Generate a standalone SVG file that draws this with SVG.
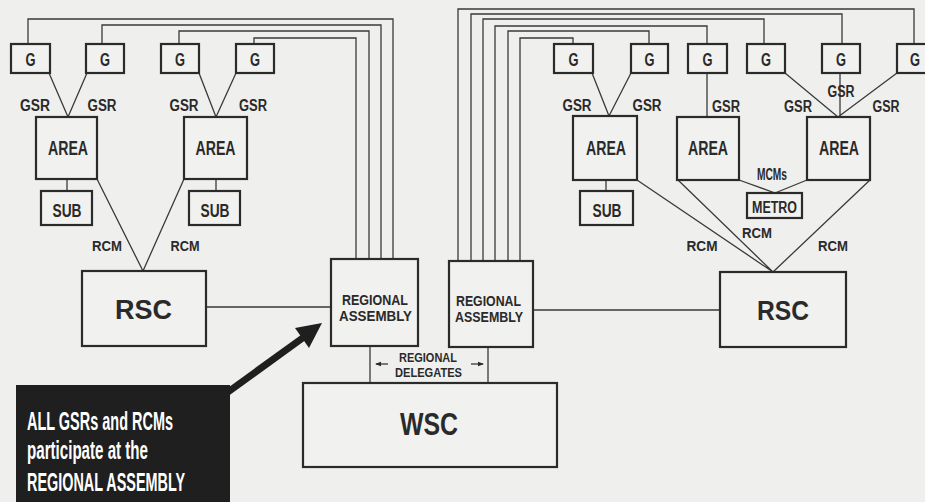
<svg xmlns="http://www.w3.org/2000/svg" width="925" height="502" viewBox="0 0 925 502">
<defs>
<style>
.bx{fill:#f1f1ef;stroke:#2b2b2b;stroke-width:2.2}
.ln{fill:none;stroke:#3a3a3a;stroke-width:1.3}
.t{font-family:"Liberation Sans Narrow","Liberation Sans",Arial,sans-serif;font-weight:bold;fill:#2a2a2a;text-anchor:middle}
.w{font-family:"Liberation Sans Narrow","Liberation Sans",Arial,sans-serif;font-weight:bold;fill:#ffffff}
</style>
<marker id="ah" markerWidth="6" markerHeight="6" refX="5" refY="3" orient="auto" markerUnits="userSpaceOnUse">
<path d="M0,0.8 L6,3 L0,5.2 Z" fill="#2a2a2a"/>
</marker>
</defs>
<rect x="0" y="0" width="925" height="502" fill="#efefed"/>

<g id="connectors">
<path class="ln" d="M28,44 V19 H393 V259"/>
<path class="ln" d="M102,44 V25 H381 V259"/>
<path class="ln" d="M179,44 V31 H369 V259"/>
<path class="ln" d="M254,44 V38 H356 V259"/>
<path class="ln" d="M573,44 V38 H520 V261"/>
<path class="ln" d="M649,44 V31 H508 V261"/>
<path class="ln" d="M707,44 V26 H495 V261"/>
<path class="ln" d="M764,44 V19 H483 V261"/>
<path class="ln" d="M842,44 V14 H471 V261"/>
<path class="ln" d="M914,44 V9 H458 V261"/>
<path class="ln" d="M49,73 L68,117 M87,73 L68,117 M199,73 L216,117 M236,73 L216,117"/>
<path class="ln" d="M67,179 V191 M216,179 V191 M606,180 V191"/>
<path class="ln" d="M97,179 L143,271 M184,179 L143,271"/>
<path class="ln" d="M206,307 H331 M533,310 H720"/>
<path class="ln" d="M370,346 V383 M488,347 V383"/>
<path class="ln" d="M592,73 L609,116 M631,73 L609,116 M707,73 V117 M785,73 L838,117 M840,73 V117 M897,73 L838,117"/>
<path class="ln" d="M739,180 L775,193 M807,180 L775,193"/>
<path class="ln" d="M637,180 L773,272 M678,180 L773,272 M870,180 L773,272"/>
<path class="ln" d="M388,364 H376" marker-end="url(#ah)"/>
<path class="ln" d="M471,364 H483" marker-end="url(#ah)"/>
<line x1="228" y1="392" x2="304" y2="337" stroke="#1f1f1f" stroke-width="7"/>
<polygon points="322,323 295,328 309,348" fill="#1f1f1f"/>
</g>

<g id="g1"><rect class="bx" x="11" y="44" width="39" height="29"/><text class="t" x="30.5" y="66" font-size="18" textLength="10" lengthAdjust="spacingAndGlyphs">G</text></g>
<g id="g2"><rect class="bx" x="86" y="44" width="38" height="29"/><text class="t" x="105" y="66" font-size="18" textLength="10" lengthAdjust="spacingAndGlyphs">G</text></g>
<g id="g3"><rect class="bx" x="161" y="44" width="38" height="29"/><text class="t" x="180" y="66" font-size="18" textLength="10" lengthAdjust="spacingAndGlyphs">G</text></g>
<g id="g4"><rect class="bx" x="236" y="44" width="38" height="29"/><text class="t" x="255" y="66" font-size="18" textLength="10" lengthAdjust="spacingAndGlyphs">G</text></g>
<g id="g5"><rect class="bx" x="554" y="44" width="39" height="29"/><text class="t" x="573.5" y="66" font-size="18" textLength="10" lengthAdjust="spacingAndGlyphs">G</text></g>
<g id="g6"><rect class="bx" x="631" y="44" width="37" height="29"/><text class="t" x="649.5" y="66" font-size="18" textLength="10" lengthAdjust="spacingAndGlyphs">G</text></g>
<g id="g7"><rect class="bx" x="688" y="44" width="39" height="29"/><text class="t" x="707.5" y="66" font-size="18" textLength="10" lengthAdjust="spacingAndGlyphs">G</text></g>
<g id="g8"><rect class="bx" x="747" y="44" width="38" height="29"/><text class="t" x="766" y="66" font-size="18" textLength="10" lengthAdjust="spacingAndGlyphs">G</text></g>
<g id="g9"><rect class="bx" x="822" y="44" width="38" height="29"/><text class="t" x="841" y="66" font-size="18" textLength="10" lengthAdjust="spacingAndGlyphs">G</text></g>
<g id="g10"><rect class="bx" x="897" y="44" width="40" height="29"/><text class="t" x="915" y="66" font-size="18" textLength="10" lengthAdjust="spacingAndGlyphs">G</text></g>

<g id="area1"><rect class="bx" x="36" y="117" width="61" height="62"/><text class="t" x="68" y="155" font-size="20" textLength="40" lengthAdjust="spacingAndGlyphs">AREA</text></g>
<g id="area2"><rect class="bx" x="184" y="117" width="63" height="62"/><text class="t" x="215.5" y="155" font-size="20" textLength="40" lengthAdjust="spacingAndGlyphs">AREA</text></g>
<g id="area3"><rect class="bx" x="573" y="116" width="64" height="64"/><text class="t" x="606" y="155" font-size="20" textLength="40" lengthAdjust="spacingAndGlyphs">AREA</text></g>
<g id="area4"><rect class="bx" x="677" y="117" width="62" height="63"/><text class="t" x="708" y="155" font-size="20" textLength="40" lengthAdjust="spacingAndGlyphs">AREA</text></g>
<g id="area5"><rect class="bx" x="807" y="117" width="63" height="63"/><text class="t" x="839" y="155" font-size="20" textLength="40" lengthAdjust="spacingAndGlyphs">AREA</text></g>

<g id="sub1"><rect class="bx" x="41" y="191" width="51" height="34"/><text class="t" x="67" y="217" font-size="19" textLength="29" lengthAdjust="spacingAndGlyphs">SUB</text></g>
<g id="sub2"><rect class="bx" x="189" y="191" width="51" height="34"/><text class="t" x="215" y="217" font-size="19" textLength="29" lengthAdjust="spacingAndGlyphs">SUB</text></g>
<g id="sub3"><rect class="bx" x="580" y="191" width="53" height="34"/><text class="t" x="607" y="217" font-size="19" textLength="29" lengthAdjust="spacingAndGlyphs">SUB</text></g>

<g id="metro"><rect class="bx" x="747" y="193" width="55" height="25"/><text class="t" x="774.5" y="213" font-size="16" textLength="45" lengthAdjust="spacingAndGlyphs">METRO</text></g>

<g id="rsc1"><rect class="bx" x="82" y="271" width="124" height="75"/><text class="t" x="143.5" y="319" font-size="27" textLength="57" lengthAdjust="spacingAndGlyphs">RSC</text></g>
<g id="rsc2"><rect class="bx" x="720" y="272" width="126" height="75"/><text class="t" x="783" y="320" font-size="27" textLength="52" lengthAdjust="spacingAndGlyphs">RSC</text></g>

<g id="ra1"><rect class="bx" x="331" y="259" width="87" height="87"/><text class="t" x="375" y="305" font-size="15" textLength="66" lengthAdjust="spacingAndGlyphs">REGIONAL</text><text class="t" x="375.5" y="321" font-size="15" textLength="73" lengthAdjust="spacingAndGlyphs">ASSEMBLY</text></g>
<g id="ra2"><rect class="bx" x="449" y="261" width="84" height="86"/><text class="t" x="488.5" y="306" font-size="15" textLength="65" lengthAdjust="spacingAndGlyphs">REGIONAL</text><text class="t" x="489" y="322" font-size="15" textLength="68" lengthAdjust="spacingAndGlyphs">ASSEMBLY</text></g>

<g id="wsc"><rect class="bx" x="303" y="383" width="254" height="84"/><text class="t" x="429" y="435" font-size="32" textLength="58" lengthAdjust="spacingAndGlyphs">WSC</text></g>

<g id="labels">
<text class="t" x="35" y="111" font-size="16" textLength="30" lengthAdjust="spacingAndGlyphs">GSR</text>
<text class="t" x="102" y="111" font-size="16" textLength="29" lengthAdjust="spacingAndGlyphs">GSR</text>
<text class="t" x="184" y="111" font-size="16" textLength="29" lengthAdjust="spacingAndGlyphs">GSR</text>
<text class="t" x="253" y="111" font-size="16" textLength="28" lengthAdjust="spacingAndGlyphs">GSR</text>
<text class="t" x="577" y="111" font-size="16" textLength="29" lengthAdjust="spacingAndGlyphs">GSR</text>
<text class="t" x="647" y="111" font-size="16" textLength="29" lengthAdjust="spacingAndGlyphs">GSR</text>
<text class="t" x="726" y="112" font-size="16" textLength="28" lengthAdjust="spacingAndGlyphs">GSR</text>
<text class="t" x="798" y="112" font-size="16" textLength="28" lengthAdjust="spacingAndGlyphs">GSR</text>
<text class="t" x="841" y="97" font-size="16" textLength="27" lengthAdjust="spacingAndGlyphs">GSR</text>
<text class="t" x="886" y="112" font-size="16" textLength="27" lengthAdjust="spacingAndGlyphs">GSR</text>
<text class="t" x="107" y="251" font-size="15" textLength="30" lengthAdjust="spacingAndGlyphs">RCM</text>
<text class="t" x="185" y="251" font-size="15" textLength="29" lengthAdjust="spacingAndGlyphs">RCM</text>
<text class="t" x="702" y="251" font-size="15" textLength="31" lengthAdjust="spacingAndGlyphs">RCM</text>
<text class="t" x="757" y="238" font-size="15" textLength="30" lengthAdjust="spacingAndGlyphs">RCM</text>
<text class="t" x="833" y="251" font-size="15" textLength="30" lengthAdjust="spacingAndGlyphs">RCM</text>
<text class="t" x="772" y="180" font-size="16" textLength="30" lengthAdjust="spacingAndGlyphs">MCMs</text>
<text class="t" x="428" y="362" font-size="13" textLength="58" lengthAdjust="spacingAndGlyphs">REGIONAL</text>
<text class="t" x="428.5" y="377" font-size="13" textLength="67" lengthAdjust="spacingAndGlyphs">DELEGATES</text>
</g>

<g id="note">
<rect x="16" y="385" width="214" height="117" fill="#1f1f1f"/>
<text class="w" x="27" y="430" font-size="25" textLength="146" lengthAdjust="spacingAndGlyphs">ALL GSRs and RCMs</text>
<text class="w" x="27" y="459" font-size="25" textLength="121" lengthAdjust="spacingAndGlyphs">participate at the</text>
<text class="w" x="27" y="491" font-size="25" textLength="158" lengthAdjust="spacingAndGlyphs">REGIONAL ASSEMBLY</text>
</g>
</svg>
